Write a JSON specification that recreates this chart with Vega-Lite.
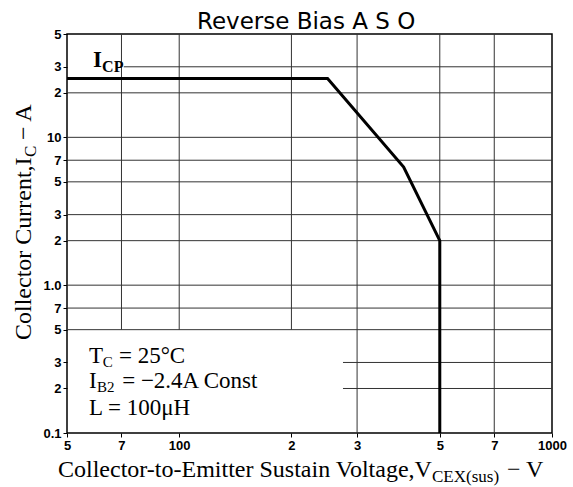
{
  "$schema": "https://vega.github.io/schema/vega-lite/v6.json",
  "width": 485,
  "height": 399,
  "autosize": {"type": "none"},
  "padding": {"left": 67, "top": 34, "right": 21, "bottom": 54},
  "background": "white",
  "config": {
    "view": {"stroke": "black", "strokeWidth": 1.5},
    "axis": {"grid": false, "domain": false, "ticks": true, "tickSize": 4, "tickColor": "black", "tickWidth": 1, "labelFont": "Liberation Sans", "labelFontWeight": "bold", "labelFontSize": 13, "labelColor": "black", "labelPadding": 2, "labelFlush": false, "labelOverlap": false},
    "text": {"font": "Liberation Serif", "color": "black"}
  },
  "encoding": {
    "x": {"field": "x", "type": "quantitative", "title": null,
      "scale": {"type": "log", "domain": [50, 1000], "nice": false},
      "axis": {"values": [50, 70, 100, 200, 300, 500, 700, 1000],
        "labelExpr": "datum.value == 100 ? '100' : datum.value == 1000 ? '1000' : toString(round(datum.value / pow(10, floor(log(datum.value) / LN10 + 1e-9))))"}},
    "y": {"field": "y", "type": "quantitative", "title": null,
      "scale": {"type": "log", "domain": [0.1, 50], "nice": false},
      "axis": {"values": [0.1, 0.2, 0.3, 0.5, 0.7, 1, 2, 3, 5, 7, 10, 20, 30, 50],
        "labelExpr": "datum.value == 1 ? '1.0' : datum.value == 0.1 ? '0.1' : datum.value == 10 ? '10' : toString(round(datum.value / pow(10, floor(log(datum.value) / LN10 + 1e-9))))"}}
  },
  "layer": [
    {
      "data": {"values": [
        {"y": 30, "x": 71, "x2": 1000},
        {"y": 20, "x": 50, "x2": 1000},
        {"y": 10, "x": 50, "x2": 1000},
        {"y": 7, "x": 50, "x2": 1000},
        {"y": 5, "x": 50, "x2": 1000},
        {"y": 3, "x": 50, "x2": 1000},
        {"y": 2, "x": 50, "x2": 1000},
        {"y": 1, "x": 50, "x2": 1000},
        {"y": 0.7, "x": 50, "x2": 1000},
        {"y": 0.5, "x": 50, "x2": 1000},
        {"y": 0.3, "x": 275, "x2": 1000},
        {"y": 0.2, "x": 275, "x2": 1000}
      ]},
      "mark": {"type": "rule", "color": "#333333", "strokeWidth": 1},
      "encoding": {"x2": {"field": "x2"}}
    },
    {
      "data": {"values": [
        {"x": 70, "y": 0.5, "y2": 50},
        {"x": 100, "y": 0.5, "y2": 50},
        {"x": 200, "y": 0.5, "y2": 50},
        {"x": 300, "y": 0.1, "y2": 50},
        {"x": 500, "y": 0.1, "y2": 50},
        {"x": 700, "y": 0.1, "y2": 50}
      ]},
      "mark": {"type": "rule", "color": "#333333", "strokeWidth": 1},
      "encoding": {"y2": {"field": "y2"}}
    },
    {
      "data": {"values": [
        {"x": 50, "y": 25, "o": 1},
        {"x": 250, "y": 25, "o": 2},
        {"x": 400, "y": 6.3, "o": 3},
        {"x": 500, "y": 2, "o": 4},
        {"x": 500, "y": 0.1, "o": 5}
      ]},
      "mark": {"type": "line", "color": "black", "strokeWidth": 3},
      "encoding": {"order": {"field": "o", "type": "quantitative"}}
    },
    {
      "data": {"values": [{"x": 219, "y": 50, "label": "Reverse Bias A S O"}]},
      "mark": {"type": "text", "align": "center", "baseline": "alphabetic", "font": "DejaVu Sans", "fontSize": 23, "dy": -5},
      "encoding": {"text": {"field": "label"}}
    },
    {
      "data": {"values": [
        {"x": 57.3, "y": 0.297, "label": "T"},
        {"x": 68.9, "y": 0.297, "label": "= 25°C"},
        {"x": 57.3, "y": 0.201, "label": "I"},
        {"x": 70.3, "y": 0.201, "label": "= −2.4A  Const"},
        {"x": 57.3, "y": 0.133, "label": "L = 100μH"}
      ]},
      "mark": {"type": "text", "align": "left", "baseline": "alphabetic", "fontSize": 23},
      "encoding": {"text": {"field": "label"}}
    },
    {
      "data": {"values": [
        {"x": 62.4, "y": 0.297, "label": "C"},
        {"x": 60.2, "y": 0.201, "label": "B2"}
      ]},
      "mark": {"type": "text", "align": "left", "baseline": "alphabetic", "fontSize": 15, "dy": 4},
      "encoding": {"text": {"field": "label"}}
    },
    {
      "data": {"values": [{"x": 58.7, "y": 30, "label": "I"}]},
      "mark": {"type": "text", "align": "left", "baseline": "alphabetic", "fontSize": 23, "fontWeight": "bold"},
      "encoding": {"text": {"field": "label"}}
    },
    {
      "data": {"values": [{"x": 62.1, "y": 30, "label": "CP"}]},
      "mark": {"type": "text", "align": "left", "baseline": "alphabetic", "fontSize": 16, "fontWeight": "bold", "dy": 5},
      "encoding": {"text": {"field": "label"}}
    },
    {
      "data": {"values": [{"x": 50, "y": 0.1, "label": "Collector-to-Emitter Sustain Voltage,V"}]},
      "mark": {"type": "text", "align": "left", "baseline": "alphabetic", "fontSize": 24, "dx": -9, "dy": 44},
      "encoding": {"text": {"field": "label"}}
    },
    {
      "data": {"values": [{"x": 50, "y": 0.1, "label": "CEX(sus)"}]},
      "mark": {"type": "text", "align": "left", "baseline": "alphabetic", "fontSize": 17, "dx": 365, "dy": 49},
      "encoding": {"text": {"field": "label"}}
    },
    {
      "data": {"values": [{"x": 50, "y": 0.1, "label": "−  V"}]},
      "mark": {"type": "text", "align": "left", "baseline": "alphabetic", "fontSize": 24, "dx": 440, "dy": 44},
      "encoding": {"text": {"field": "label"}}
    },
    {
      "data": {"values": [{"x": 50, "y": 0.1, "label": "Collector Current,I"}]},
      "mark": {"type": "text", "align": "left", "baseline": "alphabetic", "fontSize": 24, "angle": 270, "dx": 93, "dy": -36},
      "encoding": {"text": {"field": "label"}}
    },
    {
      "data": {"values": [{"x": 50, "y": 0.1, "label": "C"}]},
      "mark": {"type": "text", "align": "left", "baseline": "alphabetic", "fontSize": 17, "angle": 270, "dx": 276, "dy": -31},
      "encoding": {"text": {"field": "label"}}
    },
    {
      "data": {"values": [{"x": 50, "y": 0.1, "label": "− A"}]},
      "mark": {"type": "text", "align": "left", "baseline": "alphabetic", "fontSize": 24, "angle": 270, "dx": 293, "dy": -36},
      "encoding": {"text": {"field": "label"}}
    }
  ]
}
